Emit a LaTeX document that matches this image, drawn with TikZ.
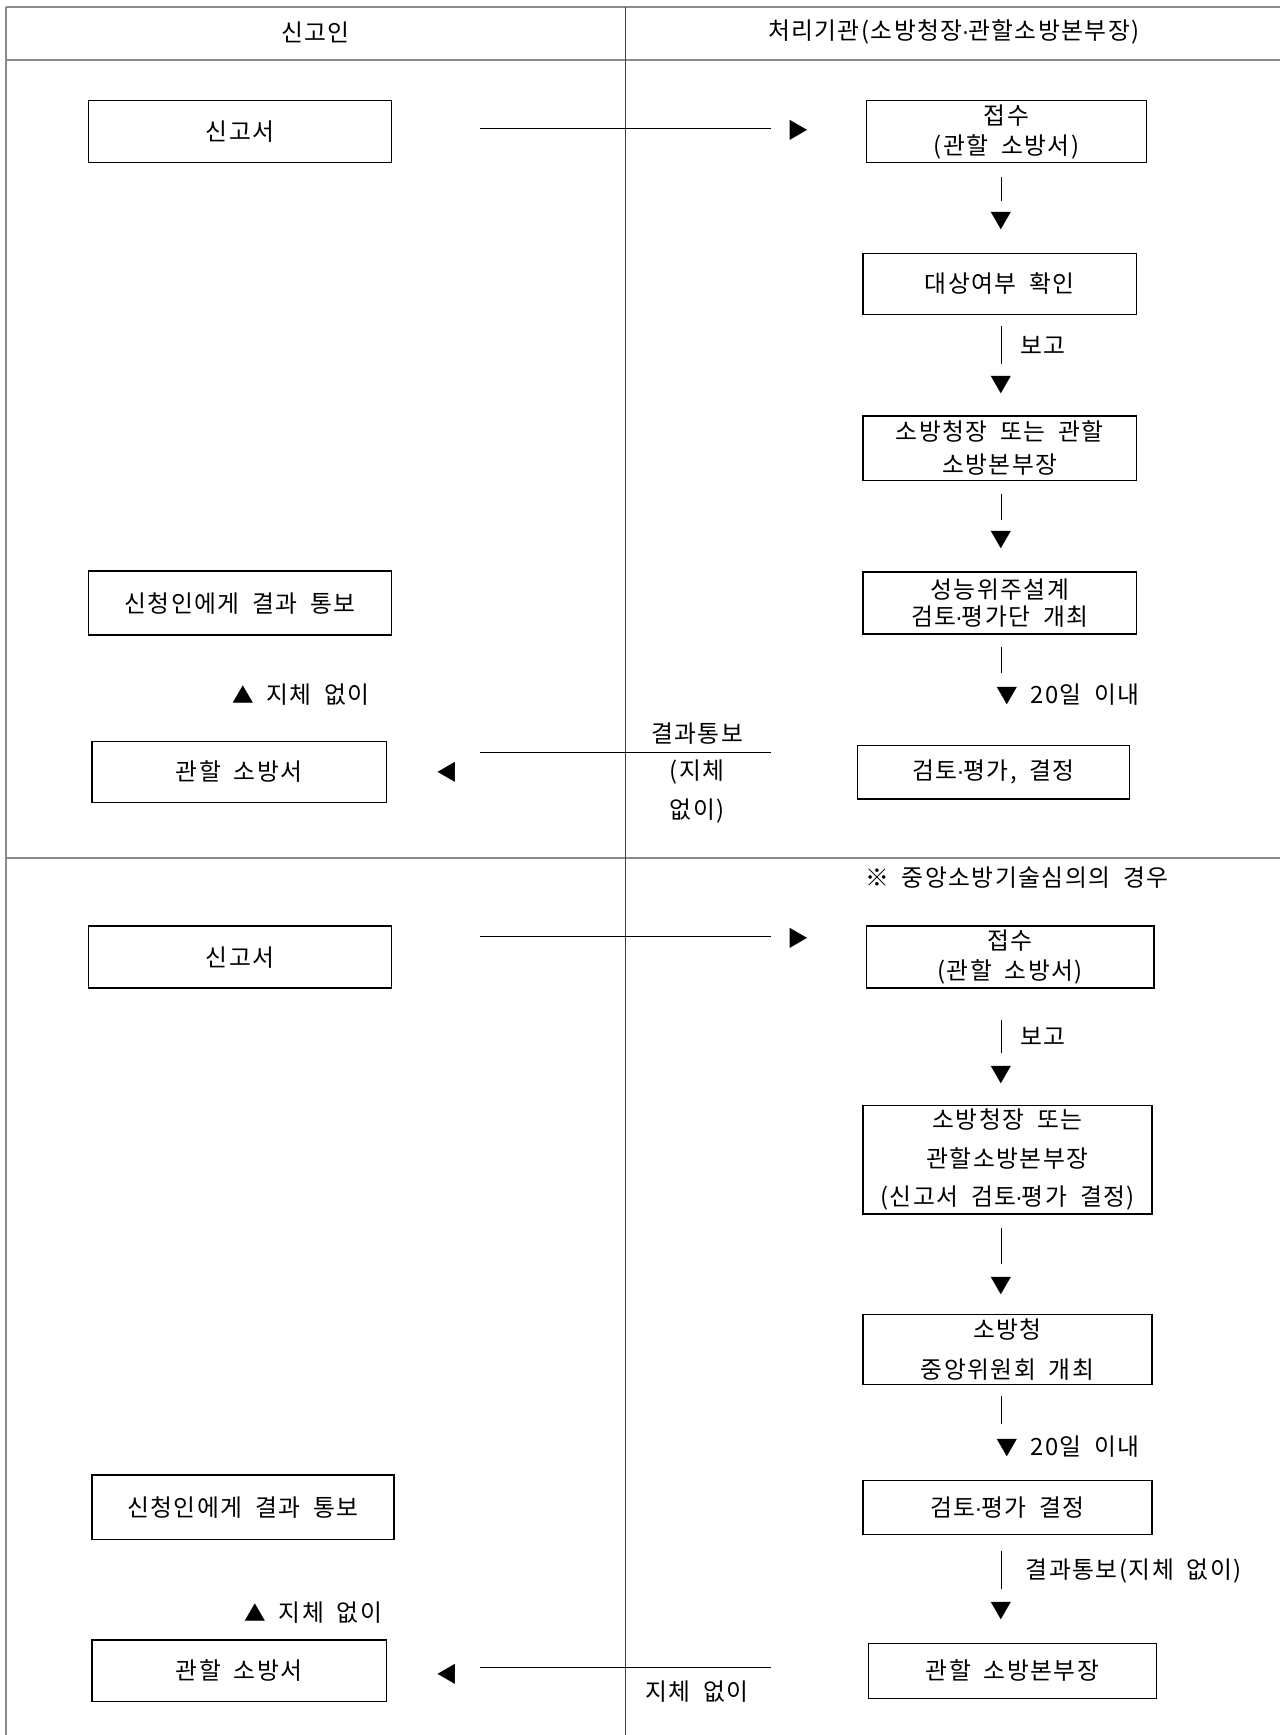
\documentclass[tikz,border=0pt]{standalone}
\usepackage{fontspec}
\setmainfont{Noto Sans CJK KR}[LetterSpace=6,WordSpace=1.9]
\newfontfamily\dotfont{Liberation Sans}
\newcommand{\md}{{\dotfont\kern-1pt·\kern-1pt}}
\newcommand{\tri}[1]{{\fontsize{19.5}{20}\selectfont #1}}
\begin{document}
\begin{tikzpicture}[x=1pt, y=-1pt,
    font=\fontsize{21.5}{27}\selectfont,
    mybox/.style={draw, line width=1.2pt, align=center, inner sep=0pt},
    myline/.style={line width=1pt},
    mygrid/.style={draw=black!45, line width=1.6pt}]
  \useasboundingbox (0,0) rectangle (1157,1568);
  % table frame
  \draw[mygrid] (5,6) -- (1157,6);
  \draw[mygrid] (5,54.5) -- (1157,54.5);
  \draw[mygrid] (5,775.5) -- (1157,775.5);
  \draw[mygrid] (5.5,6) -- (5.5,1568);
  \draw[draw=black!75, line width=0.9pt] (565,6) -- (565,1568);
  \node (hdl) at (285,29) {신고인};
  \node (hdr) at (862,29) {처리기관(소방청장\md 관할소방본부장)};

  % upper part
  \node[mybox, minimum width=274pt, minimum height=56pt] (sin1) at (217,119) {신고서};
  \node[mybox, minimum width=253pt, minimum height=56pt] (jeop1) at (909.5,119) {접수\\(관할 소방서)};
  \node[mybox, minimum width=247pt, minimum height=55pt] (dae) at (903.5,256.5) {대상여부 확인};
  \node[mybox, minimum width=247pt, minimum height=58pt] (bon1) at (903.5,405) {소방청장 또는 관할\\[3pt]소방본부장};
  \node[mybox, minimum width=247pt, minimum height=56pt] (seong) at (903.5,545) {성능위주설계\\[-2pt]검토\md 평가단 개최};
  \node[mybox, minimum width=274pt, minimum height=58pt] (tong1) at (217,545) {신청인에게 결과 통보};
  \node[mybox, minimum width=266pt, minimum height=55pt] (gwan1) at (216,697.5) {관할 소방서};
  \node[mybox, minimum width=246pt, minimum height=48pt] (geom1) at (898,698) {검토\md 평가, 결정};

  % lower part
  \node (note) at (919,793) {※ 중앙소방기술심의의 경우};
  \node[mybox, minimum width=274pt, minimum height=56pt] (sin2) at (217,865) {신고서};
  \node[mybox, minimum width=260pt, minimum height=56pt] (jeop2) at (913,865) {접수\\(관할 소방서)};
  \node[mybox, minimum width=261pt, minimum height=98pt] (bon2) at (910.5,1048) {소방청장 또는\\[8pt]관할소방본부장\\[8pt](신고서 검토\md 평가 결정)};
  \node[mybox, minimum width=261pt, minimum height=63pt] (jung) at (910.5,1219.5) {소방청\\[9pt]중앙위원회 개최};
  \node[mybox, minimum width=273pt, minimum height=58pt] (tong2) at (219.5,1362) {신청인에게 결과 통보};
  \node[mybox, minimum width=261pt, minimum height=49pt] (geom2) at (910.5,1362.5) {검토\md 평가 결정};
  \node[mybox, minimum width=266pt, minimum height=56pt] (gwan2) at (216,1510) {관할 소방서};
  \node[mybox, minimum width=260pt, minimum height=50pt] (bonbu) at (915,1510) {관할 소방본부장};

  % vertical connectors with their heads
  \foreach \n/\ya/\yb/\yt in {v1/160/182/200, v2/295/329/348, v3/446/470/488,
      v5/922/952/972, v6/1110/1142/1162, v8/1402/1436/1456}{
    \coordinate (\n a) at (905,\ya);
    \coordinate (\n b) at (905,\yb);
    \draw[myline] (\n a) -- (\n b);
    \node (\n t) at (905,\yt) {\tri{▼}};
  }
  \coordinate (v4a) at (905,585);
  \coordinate (v4b) at (905,608);
  \draw[myline] (v4a) -- (v4b);
  \coordinate (v7a) at (905,1262);
  \coordinate (v7b) at (905,1287);
  \draw[myline] (v7a) -- (v7b);
  \node[anchor=west, inner sep=0pt] (d1) at (900,628) {\tri{▼} 20일 이내};
  \node[anchor=west, inner sep=0pt] (d2) at (900,1307) {\tri{▼} 20일 이내};
  \node[anchor=west, inner sep=0pt] (bo1) at (922,312) {보고};
  \node[anchor=west, inner sep=0pt] (bo2) at (922,937) {보고};
  \node[anchor=west, inner sep=0pt] (res3) at (927,1420) {결과통보(지체 없이)};
  \node (up1) at (272,628) {\tri{▲} 지체 없이};
  \node (up2) at (283,1457) {\tri{▲} 지체 없이};

  % horizontal connectors
  \coordinate (h1a) at (434,116);
  \coordinate (h1b) at (697,116);
  \draw[myline] (h1a) -- (h1b);
  \node (h1t) at (721,118) {\tri{▶}};
  \coordinate (h3a) at (434,846);
  \coordinate (h3b) at (697,846);
  \draw[myline] (h3a) -- (h3b);
  \node (h3t) at (721,848) {\tri{▶}};
  \coordinate (h2a) at (697,680);
  \coordinate (h2b) at (434,680);
  \draw[myline] (h2a) -- (h2b);
  \node (h2t) at (404,698) {\tri{◀}};
  \node (res1) at (630,663) {결과통보};
  \node (res2) at (630,698) {(지체};
  \node (res2b) at (630,733) {없이)};
  \coordinate (h4a) at (697,1507);
  \coordinate (h4b) at (434,1507);
  \draw[myline] (h4a) -- (h4b);
  \node (h4t) at (404,1513) {\tri{◀}};
  \node (res4) at (630,1529) {지체 없이};
\end{tikzpicture}
\end{document}
